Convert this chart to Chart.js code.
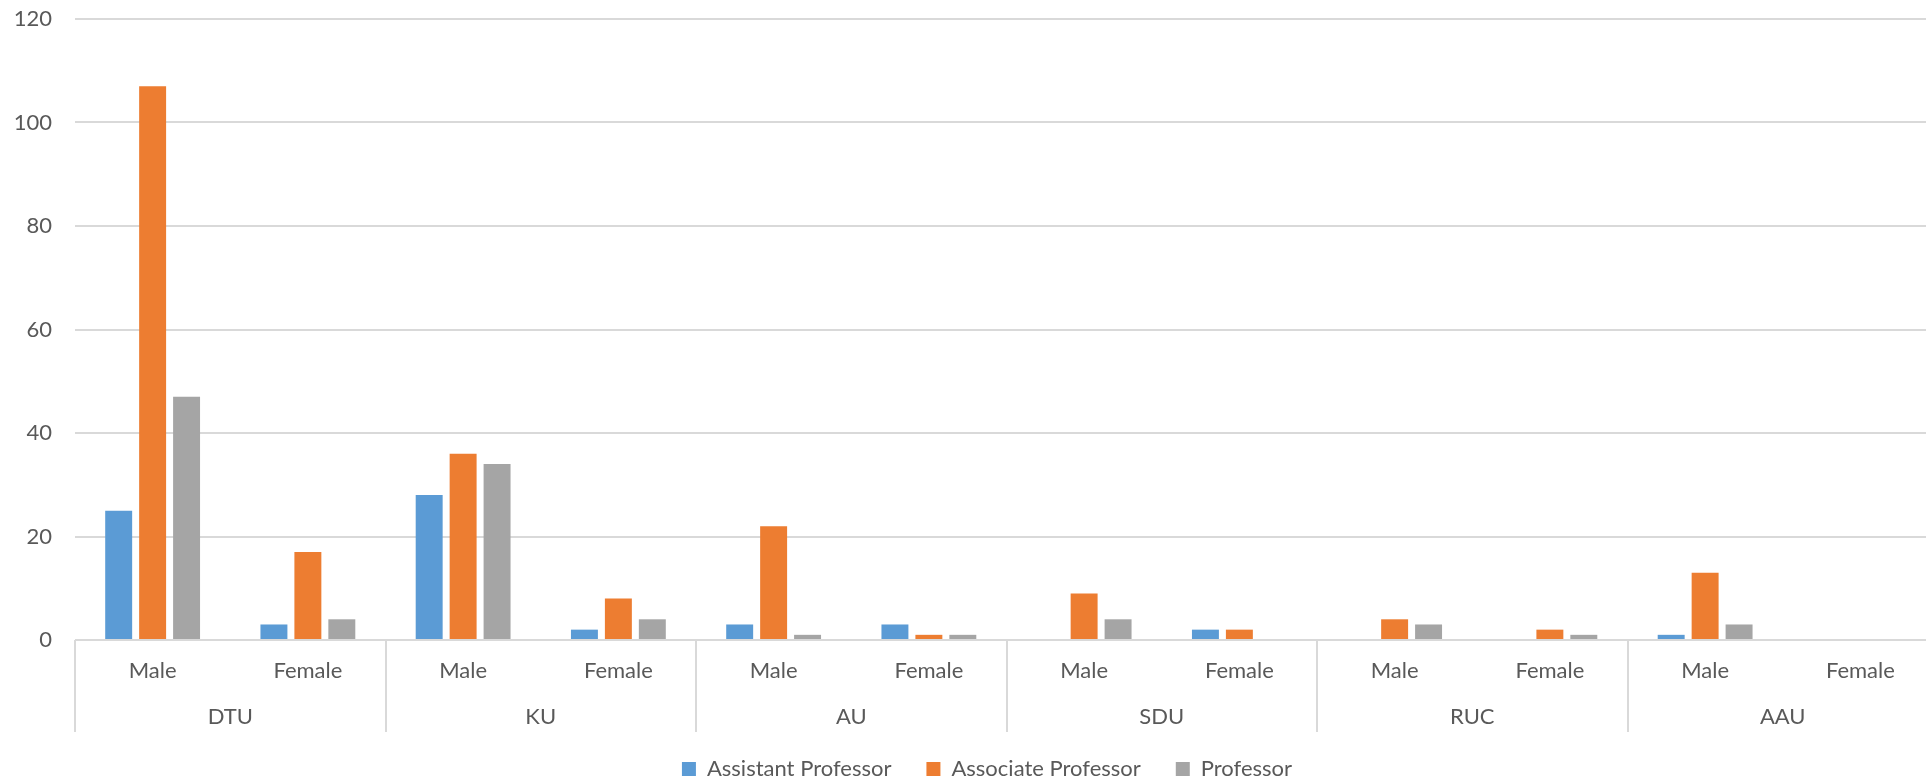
<!DOCTYPE html>
<html><head><meta charset="utf-8">
<script src="https://cdn.jsdelivr.net/npm/chart.js@4/dist/chart.umd.min.js"></script>
<style>
html,body{margin:0;padding:0;background:#fff;overflow:hidden;width:1926px;height:781px;}
#wrap{position:absolute;left:0;top:0;width:1940px;height:790px;}
</style></head><body>
<div id="wrap"><canvas id="c"></canvas></div>
<script>
// ---- data ----
const universities = ['DTU', 'KU', 'AU', 'SDU', 'RUC', 'AAU'];
const genders = ['Male', 'Female'];
const seriesNames = ['Assistant Professor', 'Associate Professor', 'Professor'];
const assistantProfessor = [25, 3, 28, 2, 3, 3, 0, 2, 0, 0, 1, 0];
const associateProfessor = [107, 17, 36, 8, 22, 1, 9, 2, 4, 2, 13, 0];
const professor = [47, 4, 34, 4, 1, 1, 4, 0, 3, 1, 3, 0];
const yTicks = [0, 20, 40, 60, 80, 100, 120];

// ---- styles ----
const FONT = 'Lato';
const FSIZE = 22;
const TEXT = '#595959';
const GRID = '#D9D9D9';
const COLORS = ['#5B9BD5', '#ED7D31', '#A5A5A5'];

const labels = universities.flatMap(() => genders);

const groupPlugin = {
  id: 'groups',
  afterLayout(chart) {
    const lg = chart.legend;
    if (!lg) return;
    const dx = 987 - (lg.left + lg.right) / 2;
    lg.left += dx; lg.right += dx;
  },
  afterDraw(chart) {
    const xs = chart.scales.x, ca = chart.chartArea, ctx = chart.ctx;
    const n = genders.length, m = universities.length;
    const lineBottom = ca.bottom + 92;
    ctx.save();
    ctx.strokeStyle = GRID;
    ctx.lineWidth = 2;
    for (let g = 0; g <= m; g++) {
      let px;
      if (g === 0) px = ca.left;
      else if (g === m) px = ca.right;
      else px = (xs.getPixelForValue(g * n - 1) + xs.getPixelForValue(g * n)) / 2;
      px = Math.round(px);
      ctx.beginPath();
      ctx.moveTo(px, ca.bottom);
      ctx.lineTo(px, lineBottom);
      ctx.stroke();
    }
    ctx.fillStyle = TEXT;
    ctx.font = FSIZE + 'px ' + FONT;
    ctx.textAlign = 'center';
    ctx.textBaseline = 'middle';
    for (let g = 0; g < m; g++) {
      const px = (xs.getPixelForValue(g * n) + xs.getPixelForValue(g * n + n - 1)) / 2;
      ctx.fillText(universities[g], px, ca.bottom + 77);
    }
    ctx.restore();
  }
};

new Chart(document.getElementById('c'), {
  type: 'bar',
  data: {
    labels: labels,
    datasets: [
      { label: seriesNames[0], data: assistantProfessor, backgroundColor: COLORS[0] },
      { label: seriesNames[1], data: associateProfessor, backgroundColor: COLORS[1] },
      { label: seriesNames[2], data: professor, backgroundColor: COLORS[2] }
    ]
  },
  options: {
    responsive: true,
    maintainAspectRatio: false,
    animation: false,
    datasets: { bar: { barPercentage: 0.794, categoryPercentage: 0.656, borderWidth: 0 } },
    layout: { padding: { top: 19, right: 2, left: 0, bottom: 0 } },
    plugins: {
      legend: {
        position: 'bottom',
        labels: {
          boxWidth: 14, boxHeight: 14, padding: 35,
          color: TEXT, font: { family: FONT, size: FSIZE }
        }
      },
      tooltip: { enabled: false }
    },
    scales: {
      x: {
        grid: { display: false, drawTicks: false },
        border: { display: false },
        ticks: { color: TEXT, font: { family: FONT, size: FSIZE }, padding: 18, maxRotation: 0, autoSkip: false },
        afterFit(s) { s.height = 83; s.paddingLeft = 0; s.paddingRight = 0; }
      },
      y: {
        min: yTicks[0], max: yTicks[yTicks.length - 1],
        grid: { color: GRID, lineWidth: 2, drawTicks: false },
        border: { display: false },
        ticks: { stepSize: yTicks[1] - yTicks[0], color: TEXT, font: { family: FONT, size: FSIZE }, padding: 23 },
        afterFit(s) { s.width = 75; s.paddingTop = 0; s.paddingBottom = 0; }
      }
    }
  },
  plugins: [groupPlugin]
});
</script>
</body></html>
